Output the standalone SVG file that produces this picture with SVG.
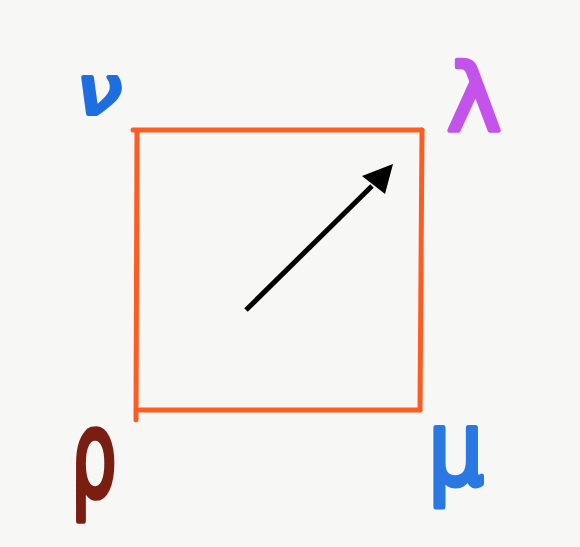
<svg xmlns="http://www.w3.org/2000/svg" width="580" height="547" viewBox="0 0 580 547">
<style>
.edge{stroke:#ff5c22;stroke-width:5;stroke-linecap:round;fill:none}
.lbl{font-family:"DejaVu Sans",sans-serif;font-weight:normal;stroke-width:4;stroke-linejoin:round;text-anchor:middle}
.arrow{stroke:#000;stroke-width:5;fill:none}
</style>
<rect width="580" height="547" fill="#f7f7f6"/>
<g id="square">
<line class="edge" x1="133" y1="130" x2="422" y2="130"/>
<line class="edge" x1="422" y1="130" x2="420" y2="410"/>
<line class="edge" x1="420" y1="410" x2="140" y2="410"/>
<line class="edge" x1="137" y1="132" x2="136" y2="420"/>
</g>
<g id="connectors">
<line class="arrow" x1="246" y1="310" x2="372" y2="186"/>
<path d="M393,164 L362,176 L385,194 z" fill="#000"/>
</g>
<g id="nu"><text class="lbl" transform="translate(99,114) scale(1.2,1)" font-size="68" fill="#1e6ee0" stroke="#1e6ee0" font-style="italic">ν</text></g>
<g id="lambda"><text class="lbl" transform="translate(474,131) scale(1.1,1.1)" font-size="84" fill="#c353ea" stroke="#c353ea">λ</text></g>
<g id="rho"><text class="lbl" transform="translate(94,496) scale(0.85,1.43)" font-size="84" fill="#7b1e12" stroke="#7b1e12" stroke-width="3">ρ</text></g>
<g id="mu"><text class="lbl" transform="translate(456,485) scale(1.05,1.25)" font-size="84" fill="#2a78e2" stroke="#2a78e2">μ</text></g>
</svg>
